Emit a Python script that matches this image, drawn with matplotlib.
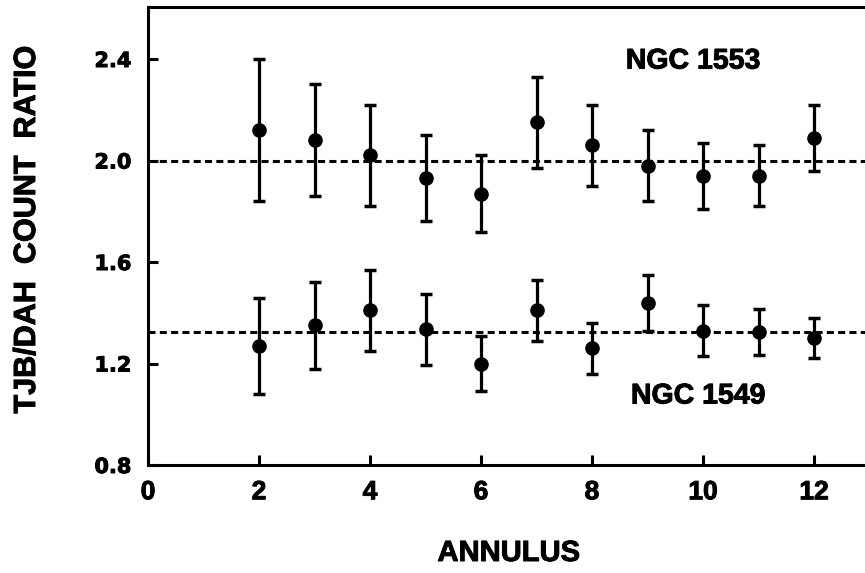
import matplotlib
matplotlib.use("Agg")
import matplotlib.pyplot as plt
import matplotlib.patheffects as pe
import numpy as np

# anillos medidos
annulus = [2, 3, 4, 5, 6, 7, 8, 9, 10, 11, 12]

# NGC 1553 (serie superior)
ratio_1553 = [2.12, 2.08, 2.02, 1.93, 1.87, 2.15, 2.06, 1.98, 1.94, 1.94, 2.09]
err_1553 = [0.28, 0.22, 0.20, 0.17, 0.15, 0.18, 0.16, 0.14, 0.13, 0.12, 0.13]
mean_1553 = 2.0

# NGC 1549 (serie inferior)
ratio_1549 = [1.27, 1.35, 1.41, 1.335, 1.20, 1.41, 1.26, 1.44, 1.33, 1.325, 1.30]
err_1549 = [0.19, 0.17, 0.16, 0.14, 0.11, 0.12, 0.10, 0.11, 0.10, 0.09, 0.08]
mean_1549 = 1.325

xticks = [0, 2, 4, 6, 8, 10, 12]
yticks = [0.8, 1.2, 1.6, 2.0, 2.4]

BOLD = "Liberation Sans"
# trazo fino para imitar la tinta gruesa de la figura impresa
GRUESO = [pe.withStroke(linewidth=0.7, foreground="black")]


def main():
    fig = plt.figure(figsize=(8.65, 5.73), dpi=100)
    # el eje derecho queda justo fuera de la imagen, como en el original
    ax = fig.add_axes([148 / 865, 1 - 465 / 573, (869.5 - 148) / 865, (465 - 6.5) / 573])

    for ref in (mean_1553, mean_1549):
        ax.axhline(ref, color="black", lw=2.2, linestyle=(0, (2.3, 1.4)),
                   dash_capstyle="butt", zorder=1)

    for ratio, err in ((ratio_1553, err_1553), (ratio_1549, err_1549)):
        ax.errorbar(annulus, ratio, yerr=err, fmt="o", color="black",
                    markersize=9.5, elinewidth=2.3, capsize=4.5, capthick=2.5,
                    zorder=3)

    ax.text(9.82, 2.39, "NGC 1553", family=BOLD, weight="bold", fontsize=20.5,
            ha="center", va="center", path_effects=GRUESO)
    ax.text(9.91, 1.07, "NGC 1549", family=BOLD, weight="bold", fontsize=20.5,
            ha="center", va="center", path_effects=GRUESO)

    ax.set_xlim(0, 13)
    ax.set_ylim(0.8, 2.607)
    ax.set_xticks(xticks)
    ax.set_yticks(yticks)
    ax.set_xticklabels([str(t) for t in xticks], family=BOLD, weight="bold",
                       fontsize=19, path_effects=GRUESO)
    ax.set_yticklabels([f"{t:.1f}" for t in yticks], family="DejaVu Sans",
                       weight="bold", fontsize=15, path_effects=GRUESO)
    ax.tick_params(direction="in", length=7, width=2.2)
    ax.tick_params(axis="x", pad=11)
    ax.tick_params(axis="y", pad=12)

    for side in ("left", "bottom", "top"):
        ax.spines[side].set_linewidth(2.2)
    ax.spines["right"].set_visible(False)

    ax.set_xlabel("ANNULUS", family=BOLD, weight="bold", fontsize=21, labelpad=25,
                  path_effects=GRUESO)
    fig.text(27 / 865, 1 - 230 / 573, "TJB/DAH  COUNT  RATIO", family=BOLD,
             weight="bold", fontsize=22, rotation=90, ha="center", va="center",
             path_effects=GRUESO)

    fig.savefig("out.png", dpi=100)


if __name__ == "__main__":
    main()
